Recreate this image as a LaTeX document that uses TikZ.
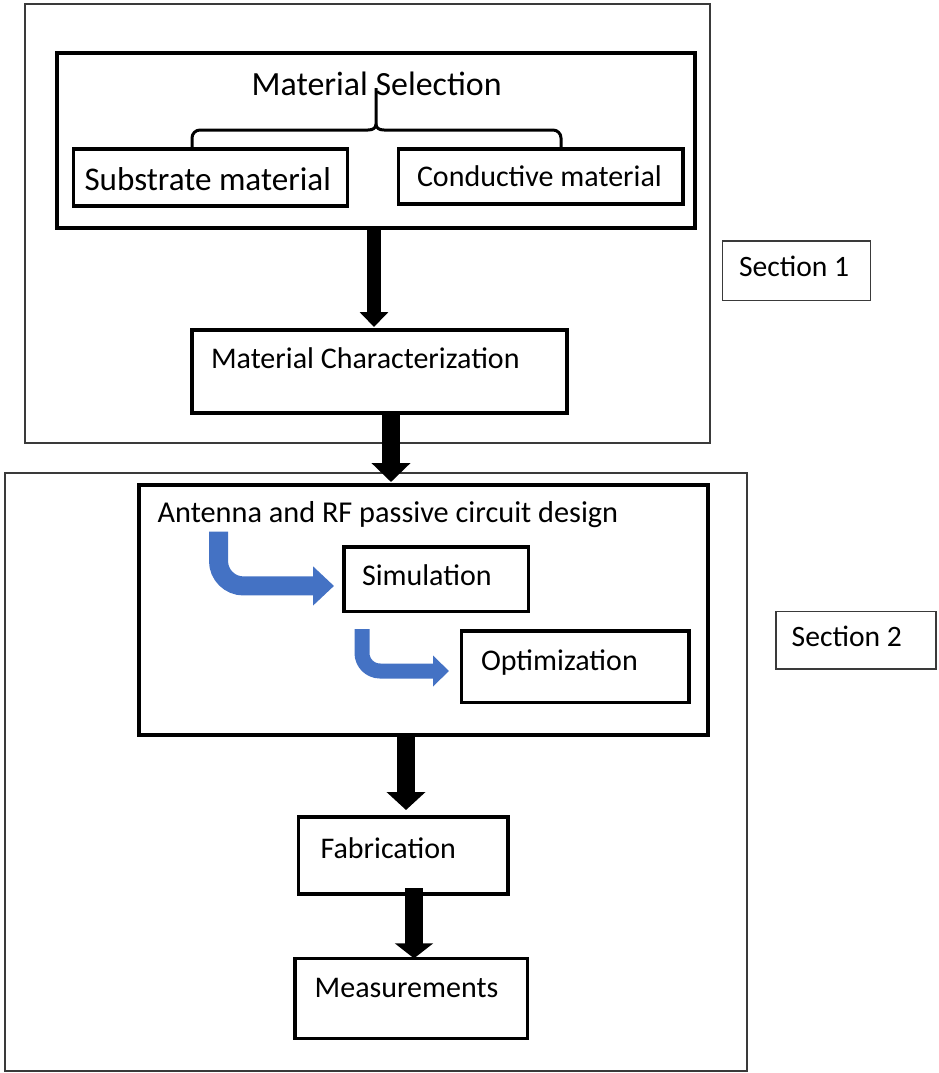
\documentclass[tikz,border=0pt]{standalone}
\usepackage{fontspec}
\setmainfont{Carlito}
\usetikzlibrary{arrows.meta}
\definecolor{arrowblue}{HTML}{4472C4}
\definecolor{framegray}{HTML}{3A3A3A}
\begin{document}
\begin{tikzpicture}[x=1pt,y=-1pt,
  box/.style={draw=black, line width=3.5pt, inner sep=0pt, outer sep=0pt, anchor=north west},
  frame/.style={draw=framegray, line width=1.5pt, inner sep=0pt, outer sep=0pt, anchor=north west},
  lbl/.style={anchor=base west, inner sep=0pt, outer sep=0pt, text=black, font=\fontsize{30}{36}\selectfont},
  secl/.style={lbl, font=\fontsize{29.6}{35}\selectfont},
  blackarrow/.style={draw=black, line cap=butt},
  bluearrow/.style={draw=arrowblue, line cap=butt},
  bracestyle/.style={draw=black, line width=3pt, line join=round}
]
\useasboundingbox (0,0) rectangle (938,1073);
% frames
\node[frame, minimum width=685pt, minimum height=439pt] (sec1) at (25,4) {};
\node[frame, minimum width=742pt, minimum height=598pt] (sec2) at (5,473) {};
\node[frame, minimum width=148pt, minimum height=59.7pt] (lab1) at (722.7,241) {};
\node[frame, minimum width=160pt, minimum height=57.3pt] (lab2) at (776,611.7) {};
% boxes
\node[box, minimum width=638pt, minimum height=175pt] (ms) at (57,53) {};
\node[box, minimum width=274pt, minimum height=57pt] (sub) at (73.5,149) {};
\node[box, minimum width=284.5pt, minimum height=55pt] (con) at (398.5,149) {};
\node[box, minimum width=375pt, minimum height=83pt] (mc) at (192,330) {};
\node[box, minimum width=569pt, minimum height=250pt] (ant) at (139,485) {};
\node[box, minimum width=184.6pt, minimum height=64.7pt] (sim) at (344,547) {};
\node[box, minimum width=227.4pt, minimum height=71.4pt] (opt) at (461.6,631) {};
\node[box, minimum width=209.4pt, minimum height=77pt] (fab) at (298.6,817) {};
\node[box, minimum width=232.6pt, minimum height=80.2pt] (mea) at (295,958.4) {};
% texts
\node[lbl, font=\fontsize{33.9}{40}\selectfont] (mst) at (251.6,95) {Material Selection};
\node[lbl, font=\fontsize{33.1}{40}\selectfont] (subt) at (84.5,190.7) {Substrate material};
\node[lbl] (cont) at (417,186.7) {Conductive material};
\node[lbl] (mct) at (211,368) {Material Characterization};
\node[secl] (lab1t) at (739,276.7) {Section 1};
\node[lbl, font=\fontsize{30.3}{36}\selectfont] (antt) at (157.6,522.5) {Antenna and RF passive circuit design};
\node[lbl] (simt) at (362,585) {Simulation};
\node[lbl] (optt) at (481,670) {Optimization};
\node[lbl] (fabt) at (320.6,858.7) {Fabrication};
\node[lbl] (meat) at (314.7,997.5) {Measurements};
\node[secl] (lab2t) at (791.7,646.7) {Section 2};
% brace
\coordinate (brtop) at (376,88);
\coordinate (brl) at (192,148);
\coordinate (brr) at (561,148);
\draw[bracestyle, rounded corners=8pt] (brl) -- (192,130) -- (368,130);
\draw[bracestyle, rounded corners=8pt] (brr) -- (561,130) -- (384,130);
\draw[bracestyle] (368,130) .. controls (373,130) and (376,128) .. (376,124) -- (brtop);
\draw[bracestyle] (384,130) .. controls (379,130) and (376,128) .. (376,124);
% black arrows
\draw[blackarrow, line width=14pt, -{Triangle[width=28pt,length=15pt]}]
  ([xshift=-2pt]ms.south) -- ([xshift=-5.5pt,yshift=3pt]mc.north);
\draw[blackarrow, line width=18pt, -{Triangle[width=38pt,length=19pt]}]
  ([xshift=11.5pt]mc.south) -- ([xshift=-32.5pt,yshift=3pt]ant.north);
\draw[blackarrow, line width=18.5pt, -{Triangle[width=38pt,length=18pt]}]
  ([xshift=-17.5pt]ant.south) -- ([xshift=2.7pt,yshift=7pt]fab.north);
\draw[blackarrow, line width=18pt, -{Triangle[width=37.5pt,length=15pt]}]
  ([xshift=10.7pt,yshift=6pt]fab.south) -- ([xshift=2.7pt]mea.north);
% blue bent arrows
\coordinate (b1s) at (218.5,531.5);
\coordinate (b2s) at (362,629);
\draw[bluearrow, line width=19pt, rounded corners=25pt, -{Triangle[width=38pt,length=21pt]}]
  (b1s) |- ([xshift=-10pt,yshift=-6.6pt]sim.west);
\draw[bluearrow, line width=15pt, rounded corners=18pt, -{Triangle[width=30pt,length=16pt]}]
  (b2s) |- ([xshift=-12.6pt,yshift=-4.3pt]opt.west);
\end{tikzpicture}
\end{document}
